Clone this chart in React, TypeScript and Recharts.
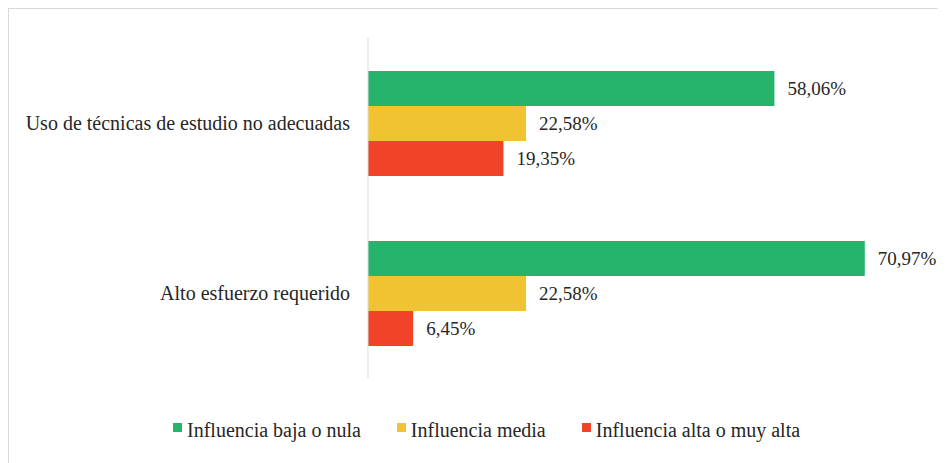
import * as React from 'react';
import { BarChart, Bar, XAxis, YAxis, Legend, LabelList } from 'recharts';

const categories = ['Uso de técnicas de estudio no adecuadas', 'Alto esfuerzo requerido'];
const bajaNula = [58.06, 70.97];
const media = [22.58, 22.58];
const altaMuyAlta = [19.35, 6.45];

const seriesNames = ['Influencia baja o nula', 'Influencia media', 'Influencia alta o muy alta'];
const seriesColors = ['#28b36d', '#f1c232', '#f0432a'];

const data = categories.map((name, i) => ({
  name,
  baja: bajaNula[i],
  media: media[i],
  alta: altaMuyAlta[i],
}));

const keys = ['baja', 'media', 'alta'];
const font = "'Liberation Serif', Tinos, 'Times New Roman', 'DejaVu Serif', serif";
const pct = (v: number) => `${v.toFixed(2).replace('.', ',')}%`;

function LegendRow({ payload }: any) {
  const items = [...(payload || [])].sort(
    (a: any, b: any) => seriesNames.indexOf(a.value) - seriesNames.indexOf(b.value)
  );
  return (
    <div style={{ display: 'flex', justifyContent: 'flex-start', paddingLeft: 164, fontFamily: font, fontSize: 20, color: '#262626' }}>
      {items.map((p: any, i: number) => (
        <div key={i} style={{ display: 'flex', alignItems: 'center', marginRight: 36 }}>
          <span style={{ width: 9, height: 9, background: p.color, display: 'inline-block', marginRight: 5, marginTop: -6 }} />
          <span>{p.value}</span>
        </div>
      ))}
    </div>
  );
}

export default function App() {
  return (
    <div style={{ width: 937, height: 454, borderTop: '1px solid #d9d9d9', borderLeft: '1px solid #d9d9d9', background: '#fff' }}>
      <BarChart
        width={937}
        height={454}
        data={data}
        layout="vertical"
        margin={{ top: 29, right: 18, bottom: 62, left: 0 }}
        barGap={0}
        style={{ overflow: 'visible' }}
      >
        <XAxis type="number" domain={[0, 80]} hide />
        <YAxis
          type="category"
          dataKey="name"
          width={359}
          tickLine={false}
          tickMargin={12}
          axisLine={{ stroke: '#d9d9d9' }}
          tick={{ fontFamily: font, fontSize: 20, fill: '#262626' }}
        />
        <Legend
          content={<LegendRow />}
          wrapperStyle={{ top: 410, left: 0, width: 937 }}
        />
        {keys.map((k, i) => (
          <Bar key={k} dataKey={k} name={seriesNames[i]} fill={seriesColors[i]} barSize={35} isAnimationActive={false}>
            <LabelList
              dataKey={k}
              position="right"
              offset={13}
              formatter={(v: any) => pct(Number(v))}
              style={{ fontFamily: font, fontSize: 19, fill: '#262626' }}
            />
          </Bar>
        ))}
      </BarChart>
    </div>
  );
}
